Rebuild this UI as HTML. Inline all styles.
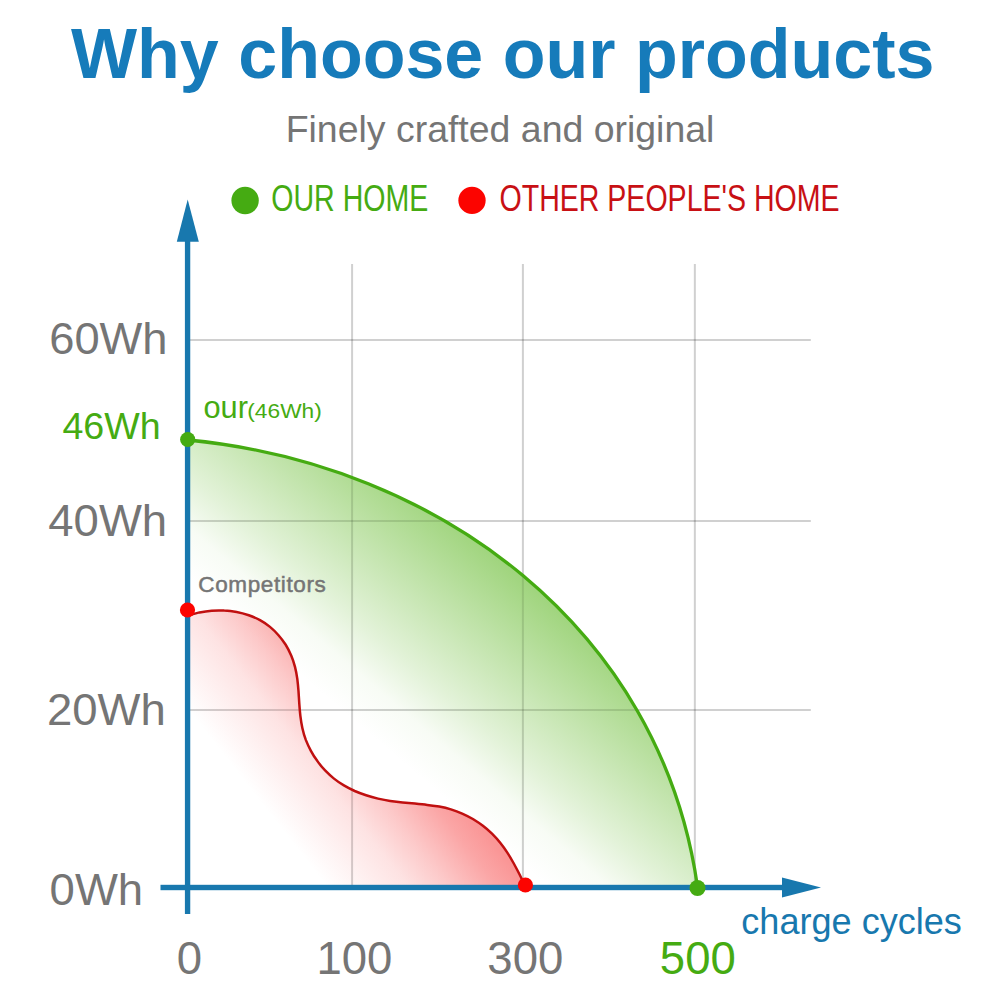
<!DOCTYPE html>
<html lang="en">
<head>
<meta charset="utf-8">
<title>Why choose our products</title>
<style>
html,body{margin:0;padding:0;background:#fff;}
body{width:1000px;height:1000px;overflow:hidden;font-family:"Liberation Sans",sans-serif;}
svg{display:block;}
text{font-family:"Liberation Sans",sans-serif;}
</style>
</head>
<body>
<svg width="1000" height="1000" viewBox="0 0 1000 1000">
<defs>
<linearGradient id="gg" gradientUnits="userSpaceOnUse" x1="340" y1="709" x2="480.700" y2="544.300">
<stop offset="0" stop-color="#96d070" stop-opacity="0"/>
<stop offset="0.182" stop-color="#96d070" stop-opacity="0.070"/>
<stop offset="0.364" stop-color="#96d070" stop-opacity="0.270"/>
<stop offset="1" stop-color="#96d070" stop-opacity="0.900"/>
</linearGradient>
<linearGradient id="rg" gradientUnits="userSpaceOnUse" x1="274.300" y1="819.500" x2="398.900" y2="722">
<stop offset="0" stop-color="#fa9696" stop-opacity="0"/>
<stop offset="0.407" stop-color="#fa9696" stop-opacity="0.270"/>
<stop offset="0.606" stop-color="#fa9696" stop-opacity="0.510"/>
<stop offset="0.853" stop-color="#fa9696" stop-opacity="0.850"/>
<stop offset="1" stop-color="#fa9696" stop-opacity="1"/>
</linearGradient>
</defs>
<rect width="1000" height="1000" fill="#fff"/>

<!-- title -->
<text x="71" y="78" font-size="70" font-weight="bold" fill="#167bba">Why choose our products</text>
<text x="285.700" y="142.400" font-size="37.450" fill="#757575">Finely crafted and original</text>

<!-- legend -->
<circle cx="245.100" cy="200.450" r="13.700" fill="#45ab12"/>
<text transform="translate(271.300 210.800) scale(0.780 1)" font-size="36.600" fill="#45ab12">OUR HOME</text>
<circle cx="472" cy="200.450" r="13.650" fill="#fc0400"/>
<text transform="translate(499.500 210.800) scale(0.780 1)" font-size="36.600" fill="#c81014">OTHER PEOPLE'S HOME</text>

<!-- grid (under fills) -->
<g stroke="#000" stroke-opacity="0.115" stroke-width="2" fill="none">
<path d="M352.100 264V887M522.900 264V887M694.850 264V887"/>
<path d="M188 340.100H810.800M188 520.900H810.800M188 710.100H810.800"/>
</g>

<!-- green area -->
<path d="M188.1 440.0C439.0 464.2 660.3 628.7 697.3 885.5L188 887Z" fill="url(#gg)"/>
<!-- red area -->
<path d="M188.1 615.7C191.7 614.3 195.6 613.3 199.5 612.4C203.5 611.6 207.6 611.0 211.7 610.7C215.8 610.4 220.0 610.3 224.2 610.6C228.4 610.8 232.6 611.3 236.7 612.0C240.9 612.8 244.9 613.9 248.8 615.2C252.7 616.6 256.4 618.2 260.0 620.2C263.5 622.1 266.9 624.4 270.0 626.9C273.0 629.4 275.9 632.2 278.5 635.2C281.2 638.2 283.5 641.4 285.7 644.8C287.8 648.2 289.6 651.8 291.2 655.5C292.8 659.2 294.0 663.0 295.0 666.9C296.0 670.8 296.7 674.8 297.3 678.9C297.8 683.0 298.2 687.1 298.5 691.2C298.8 695.4 299.0 699.5 299.3 703.7C299.6 707.8 299.9 712.0 300.4 716.1C300.9 720.2 301.5 724.2 302.4 728.2C303.3 732.2 304.4 736.1 305.8 739.9C307.3 743.7 309.0 747.3 310.9 750.9C312.8 754.5 315.0 757.9 317.4 761.1C319.7 764.4 322.3 767.5 325.1 770.4C327.9 773.3 330.9 776.1 334.0 778.6C337.1 781.1 340.5 783.4 343.9 785.4C347.4 787.5 351.0 789.3 354.7 791.0C358.4 792.6 362.2 794.0 366.1 795.3C370.0 796.6 374.0 797.7 378.0 798.6C382.0 799.5 386.1 800.3 390.2 800.9C394.3 801.5 398.4 802.0 402.6 802.4C406.7 802.8 410.8 803.2 414.9 803.6C419.0 804.0 423.1 804.4 427.2 804.9C431.2 805.3 435.2 805.9 439.2 806.6C443.2 807.4 447.1 808.3 450.9 809.4C454.7 810.6 458.5 812.0 462.2 813.6C465.8 815.2 469.4 817.0 472.9 819.0C476.3 821.1 479.7 823.3 482.9 825.8C486.1 828.2 489.1 830.9 492.0 833.7C494.9 836.6 497.7 839.6 500.2 842.8C502.8 846.0 505.2 849.4 507.5 852.9C509.7 856.3 511.8 859.9 513.8 863.5C515.8 867.2 517.7 870.8 519.6 874.5C521.4 878.1 523.1 881.8 524.8 885.3L525.400 887L188 887Z" fill="url(#rg)"/>

<!-- grid (over fills) -->
<g stroke="#000" stroke-opacity="0.080" stroke-width="2" fill="none">
<path d="M352.100 264V887M522.900 264V887M694.850 264V887"/>
<path d="M188 340.100H810.800M188 520.900H810.800M188 710.100H810.800"/>
</g>

<path d="M188.1 440.0C439.0 464.2 660.3 628.7 697.3 885.5" fill="none" stroke="#45ab12" stroke-width="3.300"/>
<path d="M188.1 615.7C191.7 614.3 195.6 613.3 199.5 612.4C203.5 611.6 207.6 611.0 211.7 610.7C215.8 610.4 220.0 610.3 224.2 610.6C228.4 610.8 232.6 611.3 236.7 612.0C240.9 612.8 244.9 613.9 248.8 615.2C252.7 616.6 256.4 618.2 260.0 620.2C263.5 622.1 266.9 624.4 270.0 626.9C273.0 629.4 275.9 632.2 278.5 635.2C281.2 638.2 283.5 641.4 285.7 644.8C287.8 648.2 289.6 651.8 291.2 655.5C292.8 659.2 294.0 663.0 295.0 666.9C296.0 670.8 296.7 674.8 297.3 678.9C297.8 683.0 298.2 687.1 298.5 691.2C298.8 695.4 299.0 699.5 299.3 703.7C299.6 707.8 299.9 712.0 300.4 716.1C300.9 720.2 301.5 724.2 302.4 728.2C303.3 732.2 304.4 736.1 305.8 739.9C307.3 743.7 309.0 747.3 310.9 750.9C312.8 754.5 315.0 757.9 317.4 761.1C319.7 764.4 322.3 767.5 325.1 770.4C327.9 773.3 330.9 776.1 334.0 778.6C337.1 781.1 340.5 783.4 343.9 785.4C347.4 787.5 351.0 789.3 354.7 791.0C358.4 792.6 362.2 794.0 366.1 795.3C370.0 796.6 374.0 797.7 378.0 798.6C382.0 799.5 386.1 800.3 390.2 800.9C394.3 801.5 398.4 802.0 402.6 802.4C406.7 802.8 410.8 803.2 414.9 803.6C419.0 804.0 423.1 804.4 427.2 804.9C431.2 805.3 435.2 805.9 439.2 806.6C443.2 807.4 447.1 808.3 450.9 809.4C454.7 810.6 458.5 812.0 462.2 813.6C465.8 815.2 469.4 817.0 472.9 819.0C476.3 821.1 479.7 823.3 482.9 825.8C486.1 828.2 489.1 830.9 492.0 833.7C494.9 836.6 497.7 839.6 500.2 842.8C502.8 846.0 505.2 849.4 507.5 852.9C509.7 856.3 511.8 859.9 513.8 863.5C515.8 867.2 517.7 870.8 519.6 874.5C521.4 878.1 523.1 881.8 524.8 885.3" fill="none" stroke="#c01010" stroke-width="2.500"/>

<!-- axes -->
<g fill="#1878ae">
<rect x="184.900" y="236" width="5.350" height="678"/>
<path d="M187.700 199.500L198.800 241.800H176.800Z"/>
<rect x="160.500" y="884.800" width="625" height="5.400"/>
<path d="M821 887.500L782 877.500V897.500Z"/>
</g>

<!-- dots -->
<circle cx="187.700" cy="439.500" r="7.600" fill="#45ab12"/>
<circle cx="697.500" cy="888" r="8" fill="#45ab12"/>
<circle cx="187.500" cy="610" r="7.600" fill="#fc0400"/>
<circle cx="525.400" cy="885" r="7.600" fill="#fc0400"/>

<!-- y labels -->
<g fill="#757575" font-size="45">
<text x="49.200" y="354.200" textLength="118.400" lengthAdjust="spacingAndGlyphs">60Wh</text>
<text x="48.300" y="535.800" textLength="118.800" lengthAdjust="spacingAndGlyphs">40Wh</text>
<text x="47" y="725.400" textLength="118.800" lengthAdjust="spacingAndGlyphs">20Wh</text>
<text x="49.600" y="905.400" textLength="93.500" lengthAdjust="spacingAndGlyphs">0Wh</text>
</g>
<text x="62.400" y="438.800" font-size="37.600" fill="#45ab12">46Wh</text>

<!-- x labels -->
<g fill="#757575" font-size="45.500" text-anchor="middle">
<text x="189.300" y="974.300">0</text>
<text x="354.400" y="974.300">100</text>
<text x="525.300" y="974.300">300</text>
</g>
<text x="697.800" y="974.300" font-size="45.500" fill="#45ab12" text-anchor="middle">500</text>
<text x="741.300" y="934" font-size="36.100" fill="#1878ae">charge cycles</text>

<!-- annotations -->
<text x="203.500" y="418.300" font-size="32" fill="#45ab12" textLength="44.500" lengthAdjust="spacingAndGlyphs">our</text>
<text x="247.300" y="418.300" font-size="21" fill="#45ab12" textLength="74.500" lengthAdjust="spacingAndGlyphs">(46Wh)</text>
<text x="198.300" y="592.400" font-size="22.500" fill="#757575" stroke="#757575" stroke-width="0.500" textLength="127.500" lengthAdjust="spacing">Competitors</text>
</svg>
</body>
</html>
